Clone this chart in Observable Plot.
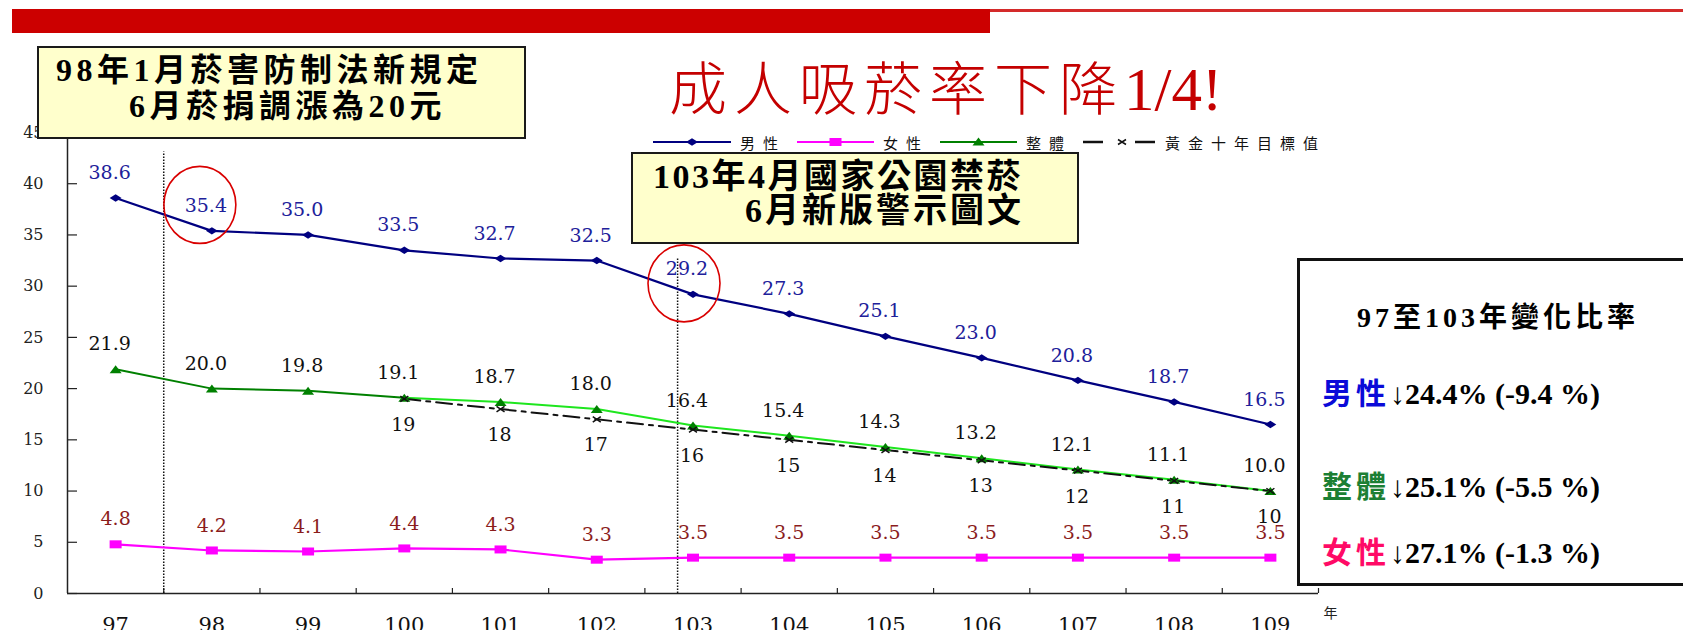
<!DOCTYPE html>
<html>
<head>
<meta charset="utf-8">
<script src="https://cdn.jsdelivr.net/npm/d3@7"></script>
<script src="https://cdn.jsdelivr.net/npm/@observablehq/plot@0.6"></script>
<style>
  body { margin: 0; background: #fff; }
  #wrap { position: relative; width: 1683px; height: 630px; overflow: hidden; }
  #chart { position: absolute; left: 0; top: 0; }
  .abs { position: absolute; white-space: nowrap; }
  .band { position: absolute; background: #cc0000; }
  .note { position: absolute; background: #ffffcc; border: 2px solid #1a1a1a; box-sizing: border-box; }
  .noteText { font-family: "Liberation Serif", "Noto Sans CJK TC", serif; font-weight: 700; color: #000; }
  #title { font-family: "Noto Sans CJK TC", sans-serif; font-weight: 300; font-size: 58px; line-height: 62px; color: #c40000; letter-spacing: 7px; }
  #title .num { font-family: "Liberation Serif", serif; font-size: 61px; letter-spacing: 0; }
  .legend { position: absolute; display: flex; align-items: center; height: 20px; font-family: "Noto Sans CJK TC", sans-serif; font-size: 15px; letter-spacing: 8px; color: #111; white-space: nowrap; }
  .legend svg { display: block; margin-right: 9px; }
  #summary { position: absolute; left: 1297px; top: 258px; width: 420px; height: 328px; border: 3px solid #111; box-sizing: border-box; background: #fff; }
  .sum { font-family: "Liberation Serif", "Noto Sans CJK TC", serif; font-weight: 700; color: #000; }
  #chart g[aria-label$="values"] text { letter-spacing: 2px; }
  #chart g[aria-label="y ticks"] text { letter-spacing: 3px; }
  #chart g[aria-label="x ticks"] text { letter-spacing: 1px; }
</style>
</head>
<body>
<div id="wrap">
  <div id="chart"></div>

  <!-- header band -->
  <div class="band" style="left:12px; top:9px; width:978px; height:24px;"></div>
  <div class="band" style="left:990px; top:9px; width:700px; height:2.5px; background:#d42a2a;"></div>

  <div id="title" class="abs" style="left:669px; top:54px;">成人吸菸率下降<span class="num">1/4!</span></div>

  <!-- policy notes -->
  <div class="note" style="left:37px; top:46px; width:489px; height:93px;"></div>
  <div class="abs noteText" style="left:56px; top:52px; font-size:32px; line-height:36px; letter-spacing:4.5px;">98年1月菸害防制法新規定</div>
  <div class="abs noteText" style="left:129px; top:88px; font-size:32px; line-height:36px; letter-spacing:4.5px;">6月菸捐調漲為20元</div>

  <div class="note" style="left:631px; top:152px; width:448px; height:92px;"></div>
  <div class="abs noteText" style="left:653px; top:160px; font-size:34px; line-height:33px; letter-spacing:2.5px;">103年4月國家公園禁菸</div>
  <div class="abs noteText" style="left:745px; top:194px; font-size:34px; line-height:33px; letter-spacing:3px;">6月新版警示圖文</div>

  <!-- legend -->
  <div class="legend" style="left:653px; top:132px;">
    <svg width="78" height="14"><line x1="0" y1="7" x2="78" y2="7" stroke="#000080" stroke-width="2"/><path d="M33,7L39,3.3L45,7L39,10.7Z" fill="#000080"/></svg>男性
  </div>
  <div class="legend" style="left:797px; top:132px;">
    <svg width="77" height="14"><line x1="0" y1="7" x2="77" y2="7" stroke="#ff00ff" stroke-width="2"/><rect x="32.5" y="3" width="12" height="8" fill="#ff00ff"/></svg>女性
  </div>
  <div class="legend" style="left:940px; top:132px;">
    <svg width="77" height="14"><line x1="0" y1="7" x2="77" y2="7" stroke="#008000" stroke-width="2"/><path d="M38.5,2.5L44.5,10.5L32.5,10.5Z" fill="#008000"/></svg>整體
  </div>
  <div class="legend" style="left:1083px; top:132px;">
    <svg width="73" height="14"><line x1="0" y1="7" x2="20" y2="7" stroke="#111" stroke-width="2.5"/><path d="M35,4.5L43,9.5M35,9.5L43,4.5" stroke="#111" stroke-width="1.5"/><line x1="52" y1="7" x2="72" y2="7" stroke="#111" stroke-width="2.5"/></svg>黃金十年目標值
  </div>

  <!-- change summary -->
  <div id="summary"></div>
  <div class="abs sum" style="left:1357px; top:300px; font-size:28px; line-height:36px; letter-spacing:4px;">97至103年變化比率</div>
  <div class="abs sum" style="left:1322px; top:376px; font-size:30px; line-height:36px;"><span style="color:#0a0ad8;letter-spacing:4px;">男性</span>↓24.4% (-9.4 %)</div>
  <div class="abs sum" style="left:1322px; top:469px; font-size:30px; line-height:36px;"><span style="color:#1c7f34;letter-spacing:4px;">整體</span>↓25.1% (-5.5 %)</div>
  <div class="abs sum" style="left:1322px; top:535px; font-size:30px; line-height:36px;"><span style="color:#ff0a66;letter-spacing:4px;">女性</span>↓27.1% (-1.3 %)</div>
</div>

<script>
// Adult smoking rate (%) by survey year (ROC calendar)
const years = [97, 98, 99, 100, 101, 102, 103, 104, 105, 106, 107, 108, 109];
const maleRates = [38.6, 35.4, 35.0, 33.5, 32.7, 32.5, 29.2, 27.3, 25.1, 23.0, 20.8, 18.7, 16.5];
const femaleRates = [4.8, 4.2, 4.1, 4.4, 4.3, 3.3, 3.5, 3.5, 3.5, 3.5, 3.5, 3.5, 3.5];
const overallRates = [21.9, 20.0, 19.8, 19.1, 18.7, 18.0, 16.4, 15.4, 14.3, 13.2, 12.1, 11.1, 10.0];

// Golden-decade target values
const targetYears = [100, 101, 102, 103, 104, 105, 106, 107, 108, 109];
const targetRates = [19, 18, 17, 16, 15, 14, 13, 12, 11, 10];

const yTicks = [0, 5, 10, 15, 20, 25, 30, 35, 40, 45];

// Policy milestones: 98年1月 and 103年4月, as fractional years
const policyAt = [97.5, 102.84];
const policyTop = [43.1, 32.8];

const toRows = (xs, vs) => xs.map((year, i) => ({year, value: vs[i]}));
const male = toRows(years, maleRates);
const female = toRows(years, femaleRates);
const overall = toRows(years, overallRates);
const target = toRows(targetYears, targetRates);
const policy = policyAt.map((x, i) => ({x, top: policyTop[i]}));

// Marker shapes: size arrives as r²·π
const rOf = (size) => Math.sqrt(size / Math.PI);
const flatDiamond = {draw(p, s) { const r = rOf(s); p.moveTo(-1.6 * r, 0); p.lineTo(0, -r); p.lineTo(1.6 * r, 0); p.lineTo(0, r); p.closePath(); }};
const flatSquare = {draw(p, s) { const r = rOf(s); p.rect(-1.5 * r, -r, 3 * r, 2 * r); }};
const flatTriangle = {draw(p, s) { const r = rOf(s); p.moveTo(0, -r); p.lineTo(1.5 * r, r); p.lineTo(-1.5 * r, r); p.closePath(); }};
const cross = {draw(p, s) { const r = rOf(s); p.moveTo(-r, -0.7 * r); p.lineTo(r, 0.7 * r); p.moveTo(-r, 0.7 * r); p.lineTo(r, -0.7 * r); }};
const ring = {draw(p, s) {
  const rx = rOf(s), ry = rx * 1.07, k = 0.5523;
  p.moveTo(rx, 0);
  p.bezierCurveTo(rx, ry * k, rx * k, ry, 0, ry);
  p.bezierCurveTo(-rx * k, ry, -rx, ry * k, -rx, 0);
  p.bezierCurveTo(-rx, -ry * k, -rx * k, -ry, 0, -ry);
  p.bezierCurveTo(rx * k, -ry, rx, -ry * k, rx, 0);
  p.closePath();
}};

const numFont = "DejaVu Serif";
const xy = {x: "year", y: "value"};

const chart = Plot.plot({
  width: 1683,
  height: 630,
  marginLeft: 67,
  marginRight: 365,
  marginTop: 132,
  marginBottom: 37,
  x: {type: "linear", domain: [96.5, 109.5], axis: null},
  y: {domain: [0, 45], axis: null},
  style: {background: "transparent", overflow: "visible"},
  marks: [
    // axes
    Plot.ruleX([96.5], {y1: 0, y2: 45, stroke: "#222", strokeWidth: 1.5}),
    Plot.ruleY([0], {x1: 96.5, x2: 109.5, stroke: "#222", strokeWidth: 1.5}),
    Plot.ruleY(yTicks, {x1: 96.5, x2: 96.5, insetRight: -10, stroke: "#222", strokeWidth: 1.2}),
    Plot.ruleX(years.map((d) => d + 0.5), {y1: 0, y2: 0, insetTop: -5, stroke: "#222", strokeWidth: 1.2}),
    Plot.text(yTicks, {x: 96.5, y: (d) => d, text: (d) => String(d), textAnchor: "end", dx: -24, fontSize: 16, fontFamily: numFont, fill: "#222", ariaLabel: "y ticks"}),
    Plot.text(years, {x: (d) => d, y: 0, text: (d) => String(d), dy: 24, lineAnchor: "top", fontSize: 21, fontFamily: numFont, fill: "#111", ariaLabel: "x ticks"}),
    Plot.text(["年"], {x: 109.5, y: 0, text: (d) => d, dx: 12, dy: 20, fontSize: 14, fontFamily: "Noto Sans CJK TC", fill: "#222"}),

    // policy milestones
    Plot.ruleX(policy, {x: "x", y1: 0, y2: "top", stroke: "#111", strokeWidth: 1.5, strokeDasharray: "1.5 1.5"}),

    // series lines
    Plot.line(male, {...xy, stroke: "#000080", strokeWidth: 2.2}),
    Plot.line(female, {...xy, stroke: "#ff00ff", strokeWidth: 2.2}),
    Plot.line(overall.filter((d) => d.year <= 100), {...xy, stroke: "#008000", strokeWidth: 2}),
    Plot.line(overall.filter((d) => d.year >= 100), {...xy, stroke: "#1ee61e", strokeWidth: 2}),
    Plot.line(target, {...xy, stroke: "#111", strokeWidth: 2, strokeDasharray: "16 6 4 6"}),

    // markers
    Plot.dot(male, {...xy, symbol: flatDiamond, r: 3.7, fill: "#000080", stroke: "none"}),
    Plot.dot(female, {...xy, symbol: flatSquare, r: 4, fill: "#ff00ff", stroke: "none"}),
    Plot.dot(overall, {...xy, symbol: flatTriangle, r: 4, fill: "#008000", stroke: "none"}),
    Plot.dot(target, {...xy, symbol: cross, r: 4, fill: "none", stroke: "#111", strokeWidth: 1.5}),

    // value labels
    Plot.text(male, {...xy, text: (d) => d.value.toFixed(1), dx: -6, dy: -25, fontSize: 19, fontFamily: numFont, fill: "#20209a", ariaLabel: "male values"}),
    Plot.text(overall, {...xy, text: (d) => d.value.toFixed(1), dx: -6, dy: -25, fontSize: 19, fontFamily: numFont, fill: "#111", ariaLabel: "overall values"}),
    Plot.text(target, {...xy, text: (d) => String(d.value), dx: -1, dy: 26, fontSize: 19, fontFamily: numFont, fill: "#111", ariaLabel: "target values"}),
    Plot.text(female, {...xy, text: (d) => d.value.toFixed(1), dy: -25, fontSize: 19, fontFamily: numFont, fill: "#8b1c1c", ariaLabel: "female values"}),

    // highlighted years
    Plot.dot(male.filter((d) => d.year === 98), {...xy, symbol: ring, r: 36, dx: -12, dy: -26, fill: "none", stroke: "#d90000", strokeWidth: 1.6}),
    Plot.dot(male.filter((d) => d.year === 103), {...xy, symbol: ring, r: 36, dx: -9, dy: -11, fill: "none", stroke: "#d90000", strokeWidth: 1.6})
  ]
});

document.getElementById("chart").appendChild(chart);
</script>
</body>
</html>
